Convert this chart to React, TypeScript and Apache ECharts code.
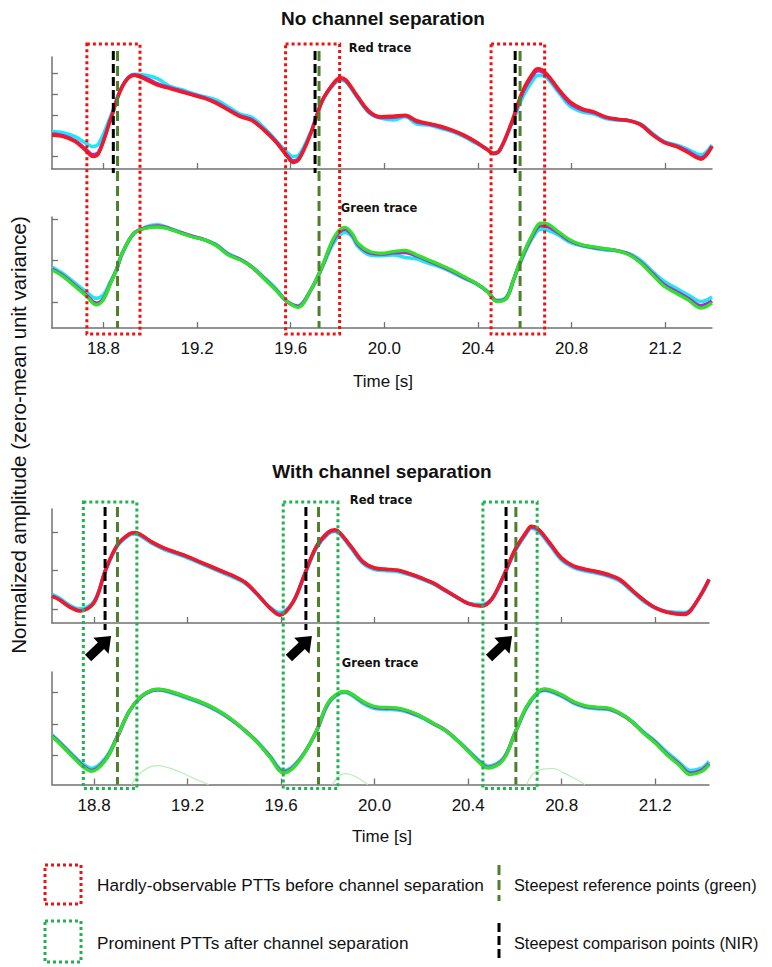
import React, { useEffect, useRef } from 'react';
import * as echarts from 'echarts';

// ---------- data ----------
const X_TICKS = [18.8, 19.2, 19.6, 20.0, 20.4, 20.8, 21.2];

// Panel 1: No channel separation – red trace
const T1 = [18.58, 18.628, 18.679, 18.729, 18.754, 18.779, 18.83, 18.88, 18.93, 18.981, 19.031, 19.082, 19.132, 19.182, 19.233, 19.283, 19.333, 19.384, 19.434, 19.484, 19.535, 19.585, 19.61, 19.636, 19.686, 19.736, 19.787, 19.812, 19.837, 19.887, 19.938, 19.988, 20.038, 20.089, 20.139, 20.189, 20.24, 20.29, 20.34, 20.391, 20.441, 20.466, 20.492, 20.542, 20.592, 20.643, 20.658, 20.693, 20.743, 20.794, 20.844, 20.895, 20.945, 20.995, 21.046, 21.096, 21.146, 21.197, 21.247, 21.297, 21.353, 21.4];
const P1_RED = [-0.96, -1.04, -1.28, -1.76, -2.0, -1.87, -0.24, 1.36, 1.92, 1.71, 1.44, 1.28, 1.12, 0.96, 0.8, 0.56, 0.24, -0.08, -0.27, -0.72, -1.28, -2.0, -2.29, -2.13, -0.88, 0.72, 1.6, 1.81, 1.68, 0.88, 0.16, -0.08, -0.05, 0.0, -0.27, -0.4, -0.53, -0.72, -0.96, -1.28, -1.68, -1.84, -1.71, -0.4, 1.2, 2.16, 2.24, 2.0, 1.28, 0.64, 0.32, 0.16, -0.08, -0.19, -0.27, -0.48, -0.96, -1.33, -1.52, -1.81, -2.13, -1.52];
const P1_CYAN = [-0.8, -0.85, -1.04, -1.39, -1.52, -1.39, -0.08, 1.39, 1.97, 1.92, 1.76, 1.39, 1.23, 1.04, 0.88, 0.72, 0.4, 0.05, -0.11, -0.59, -1.2, -1.81, -2.0, -1.92, -0.8, 0.72, 1.52, 1.68, 1.6, 0.8, 0.08, -0.16, -0.24, -0.08, -0.43, -0.48, -0.64, -0.8, -1.04, -1.36, -1.65, -1.87, -1.71, -0.48, 0.88, 1.81, 1.92, 1.81, 1.12, 0.43, 0.16, 0.05, -0.16, -0.24, -0.27, -0.43, -0.88, -1.28, -1.44, -1.65, -1.92, -1.44];
const P1_MAG = [-0.92, -1.0, -1.24, -1.7, -1.92, -1.8, -0.2, 1.38, 1.94, 1.78, 1.5, 1.32, 1.16, 0.99, 0.83, 0.6, 0.28, -0.04, -0.23, -0.68, -1.25, -1.95, -2.22, -2.08, -0.86, 0.72, 1.56, 1.76, 1.64, 0.85, 0.12, -0.12, -0.1, -0.03, -0.32, -0.43, -0.57, -0.75, -0.99, -1.31, -1.67, -1.85, -1.71, -0.43, 1.1, 2.05, 2.14, 1.94, 1.22, 0.56, 0.26, 0.12, -0.11, -0.21, -0.27, -0.46, -0.93, -1.31, -1.49, -1.75, -2.06, -1.5];

// Panel 2: No channel separation – green trace
const T2 = [18.58, 18.628, 18.679, 18.729, 18.769, 18.799, 18.83, 18.855, 18.88, 18.93, 18.981, 19.031, 19.082, 19.132, 19.182, 19.233, 19.283, 19.333, 19.384, 19.434, 19.484, 19.535, 19.585, 19.631, 19.686, 19.731, 19.787, 19.832, 19.862, 19.887, 19.938, 19.988, 20.038, 20.089, 20.139, 20.189, 20.24, 20.29, 20.34, 20.391, 20.441, 20.481, 20.522, 20.552, 20.577, 20.628, 20.668, 20.693, 20.743, 20.794, 20.844, 20.895, 20.945, 20.995, 21.046, 21.096, 21.146, 21.197, 21.247, 21.297, 21.353, 21.4];
const P2_GREEN = [-0.22, -0.38, -0.62, -0.86, -1.06, -0.94, -0.54, -0.22, 0.18, 0.66, 0.78, 0.81, 0.76, 0.66, 0.57, 0.5, 0.36, 0.14, 0.02, -0.15, -0.42, -0.7, -0.98, -1.12, -0.7, -0.18, 0.58, 0.8, 0.66, 0.42, 0.22, 0.18, 0.22, 0.25, 0.14, 0.02, -0.1, -0.23, -0.38, -0.54, -0.74, -0.98, -0.9, -0.46, -0.06, 0.58, 0.9, 0.89, 0.7, 0.5, 0.38, 0.33, 0.29, 0.24, 0.14, -0.06, -0.34, -0.62, -0.78, -0.94, -1.14, -1.02];
const P2_CYAN = [-0.15, -0.31, -0.54, -0.76, -0.9, -0.82, -0.5, -0.22, 0.17, 0.65, 0.81, 0.86, 0.78, 0.68, 0.58, 0.5, 0.38, 0.17, 0.04, -0.14, -0.39, -0.66, -0.98, -1.08, -0.7, -0.2, 0.46, 0.68, 0.58, 0.34, 0.14, 0.12, 0.14, 0.08, 0.04, -0.06, -0.15, -0.28, -0.42, -0.55, -0.74, -0.95, -0.87, -0.46, -0.1, 0.5, 0.76, 0.74, 0.62, 0.44, 0.36, 0.3, 0.26, 0.24, 0.17, 0.01, -0.26, -0.5, -0.66, -0.82, -0.98, -0.87];
const P2_MAG = [-0.2, -0.36, -0.6, -0.84, -1.02, -0.92, -0.53, -0.22, 0.18, 0.66, 0.79, 0.83, 0.77, 0.67, 0.58, 0.5, 0.37, 0.15, 0.03, -0.15, -0.41, -0.69, -0.98, -1.1, -0.7, -0.19, 0.54, 0.76, 0.63, 0.39, 0.19, 0.16, 0.19, 0.2, 0.11, 0.0, -0.12, -0.25, -0.4, -0.54, -0.74, -0.97, -0.89, -0.46, -0.08, 0.55, 0.84, 0.83, 0.67, 0.48, 0.37, 0.32, 0.28, 0.24, 0.15, -0.04, -0.31, -0.58, -0.74, -0.9, -1.08, -0.97];

// Panel 3: With channel separation – red trace
const T3 = [18.62, 18.65, 18.7, 18.74, 18.8, 18.85, 18.9, 18.95, 18.975, 19.0, 19.05, 19.1, 19.15, 19.2, 19.25, 19.3, 19.35, 19.4, 19.45, 19.5, 19.55, 19.595, 19.65, 19.7, 19.75, 19.8, 19.83, 19.85, 19.9, 19.95, 20.0, 20.05, 20.1, 20.15, 20.2, 20.25, 20.3, 20.35, 20.4, 20.455, 20.5, 20.55, 20.6, 20.65, 20.67, 20.7, 20.75, 20.8, 20.85, 20.9, 20.95, 21.0, 21.05, 21.1, 21.15, 21.2, 21.25, 21.325, 21.35, 21.4, 21.43];
const P3_RED = [-0.67, -0.76, -0.97, -1.06, -0.84, 0.03, 0.68, 0.96, 1.0, 0.94, 0.74, 0.59, 0.48, 0.37, 0.24, 0.11, -0.02, -0.15, -0.32, -0.63, -0.97, -1.17, -0.84, -0.1, 0.63, 1.0, 1.07, 1.0, 0.63, 0.24, 0.07, 0.04, 0.01, -0.08, -0.19, -0.32, -0.5, -0.69, -0.86, -0.93, -0.76, -0.15, 0.55, 1.03, 1.16, 1.09, 0.72, 0.33, 0.13, 0.04, -0.02, -0.1, -0.23, -0.5, -0.76, -0.97, -1.09, -1.15, -1.06, -0.58, -0.23];
const P3_CYAN = [-0.62, -0.71, -0.92, -1.0, -0.8, 0.02, 0.64, 0.92, 0.96, 0.9, 0.7, 0.55, 0.44, 0.33, 0.2, 0.07, -0.06, -0.19, -0.35, -0.64, -0.95, -1.1, -0.82, -0.12, 0.58, 0.95, 1.02, 0.96, 0.58, 0.19, 0.03, 0.0, -0.03, -0.11, -0.22, -0.35, -0.52, -0.7, -0.85, -0.89, -0.74, -0.17, 0.5, 0.98, 1.11, 1.03, 0.66, 0.27, 0.08, -0.01, -0.07, -0.15, -0.28, -0.54, -0.8, -0.98, -1.07, -1.1, -1.03, -0.6, -0.25];
const P3_MAG = [-0.66, -0.75, -0.96, -1.05, -0.83, 0.03, 0.67, 0.95, 0.99, 0.93, 0.73, 0.58, 0.47, 0.36, 0.23, 0.1, -0.03, -0.16, -0.33, -0.63, -0.96, -1.15, -0.83, -0.11, 0.61, 0.98, 1.05, 0.99, 0.61, 0.22, 0.06, 0.03, 0.0, -0.09, -0.2, -0.33, -0.51, -0.69, -0.86, -0.92, -0.75, -0.16, 0.53, 1.01, 1.14, 1.07, 0.7, 0.31, 0.11, 0.02, -0.04, -0.12, -0.25, -0.51, -0.77, -0.97, -1.08, -1.13, -1.05, -0.58, -0.23];

// Panel 4: With channel separation – green trace
const T4 = [18.62, 18.65, 18.7, 18.75, 18.79, 18.85, 18.9, 18.95, 19.0, 19.05, 19.075, 19.1, 19.15, 19.2, 19.25, 19.3, 19.35, 19.4, 19.45, 19.5, 19.55, 19.61, 19.65, 19.7, 19.75, 19.8, 19.85, 19.875, 19.9, 19.95, 20.0, 20.05, 20.1, 20.15, 20.2, 20.25, 20.3, 20.35, 20.4, 20.45, 20.485, 20.55, 20.6, 20.65, 20.7, 20.725, 20.75, 20.8, 20.85, 20.9, 20.95, 21.0, 21.05, 21.1, 21.15, 21.2, 21.25, 21.3, 21.35, 21.4, 21.43];
const P4_GREEN = [-0.4, -0.6, -0.97, -1.33, -1.49, -1.13, -0.4, 0.39, 0.85, 1.06, 1.08, 1.06, 0.96, 0.83, 0.7, 0.54, 0.33, 0.07, -0.24, -0.6, -1.02, -1.54, -1.39, -0.92, -0.24, 0.65, 0.98, 1.01, 0.94, 0.7, 0.54, 0.51, 0.49, 0.39, 0.23, 0.02, -0.19, -0.5, -0.86, -1.23, -1.39, -1.13, -0.29, 0.54, 1.01, 1.09, 1.06, 0.91, 0.7, 0.57, 0.52, 0.49, 0.33, 0.07, -0.29, -0.6, -0.97, -1.28, -1.59, -1.49, -1.28];
const P4_CYAN = [-0.35, -0.55, -0.91, -1.24, -1.39, -1.06, -0.38, 0.38, 0.83, 1.04, 1.06, 1.03, 0.92, 0.79, 0.66, 0.5, 0.3, 0.05, -0.25, -0.58, -0.98, -1.46, -1.33, -0.9, -0.26, 0.6, 0.95, 0.98, 0.9, 0.64, 0.48, 0.45, 0.43, 0.34, 0.19, 0.0, -0.2, -0.49, -0.83, -1.17, -1.32, -1.08, -0.3, 0.5, 0.97, 1.04, 1.01, 0.86, 0.65, 0.52, 0.47, 0.45, 0.31, 0.08, -0.25, -0.54, -0.89, -1.19, -1.46, -1.38, -1.18];
const P4_MAG = [-0.38, -0.58, -0.95, -1.3, -1.46, -1.11, -0.4, 0.39, 0.84, 1.05, 1.07, 1.05, 0.95, 0.82, 0.69, 0.53, 0.32, 0.06, -0.24, -0.59, -1.01, -1.51, -1.37, -0.91, -0.25, 0.63, 0.97, 1.0, 0.93, 0.68, 0.52, 0.49, 0.47, 0.37, 0.22, 0.01, -0.19, -0.5, -0.85, -1.21, -1.37, -1.11, -0.29, 0.53, 1.0, 1.07, 1.04, 0.89, 0.68, 0.55, 0.5, 0.47, 0.32, 0.07, -0.28, -0.58, -0.95, -1.25, -1.55, -1.45, -1.25];
// faint residual component in panel 4 (null = gap)
const T4_FAINT = [18.96, 18.99, 19.03, 19.07, 19.12, 19.18, 19.24, 19.29, 19.5, 19.82, 19.85, 19.88, 19.92, 19.97, 20.3, 20.65, 20.68, 20.72, 20.76, 20.82, 20.9];
const P4_FAINT = [-1.9, -1.6, -1.38, -1.31, -1.38, -1.55, -1.75, -1.9, null, -1.9, -1.62, -1.56, -1.66, -1.9, null, -1.9, -1.55, -1.42, -1.4, -1.58, -1.9];

// Annotation positions (time, s)
const RED_BOX_START = [18.729, 19.578, 20.456];
const RED_BOX_END = [18.956, 19.809, 20.685];
const TOP_BLACK = [18.842, 19.704, 20.559];
const TOP_GREEN = [18.86, 19.721, 20.58];
const GREEN_BOX_START = [18.754, 19.609, 20.463];
const GREEN_BOX_END = [18.983, 19.843, 20.695];
const BOT_BLACK = [18.847, 19.706, 20.562];
const BOT_GREEN = [18.9, 19.76, 20.604];

// ---------- styling ----------
const C_RED = '#ee1b24';
const C_CYAN = '#22e6f2';
const C_MAG = '#b528c8';
const C_GREEN = '#2ee22e';
const C_DOT_RED = '#f01010';
const C_DOT_GREEN = '#1fb24e';
const C_DASH_GREEN = '#4f7f2c';
const AXIS_C = '#727272';
const FONT = "'Liberation Sans', Arial, Helvetica, sans-serif";

const LEFT = 52;
const GRIDS = [
  { top: 57, height: 112, width: 660 },
  { top: 217, height: 111, width: 660 },
  { top: 509, height: 114, width: 657 },
  { top: 672, height: 112.5, width: 657 },
];
const X_RANGE = [
  [18.58, 21.4],
  [18.58, 21.4],
  [18.62, 21.43],
  [18.62, 21.43],
];
const Y_RANGE = [
  [-2.6, 2.8],
  [-1.615, 1.05],
  [-1.37, 1.61],
  [-1.9, 1.62],
];
const Y_TICKS = [[-2, -1, 0, 1, 2], [-1, 0, 1], [-1, 0, 1], [-1, 0, 1]];

const zip = (t: number[], v: (number | null)[]) => t.map((x, i) => [x, v[i]]);

function traceSeries(idx: number, t: number[], cyan: number[], mag: number[], main: number[], mainColor: string) {
  const base = {
    type: 'line',
    xAxisIndex: idx,
    yAxisIndex: idx,
    showSymbol: false,
    smooth: 0.35,
    silent: true,
  };
  return [
    { ...base, name: `cyan${idx}`, data: zip(t, cyan), lineStyle: { color: C_CYAN, width: 3.6 }, z: 2 },
    { ...base, name: `mag${idx}`, data: zip(t, mag), lineStyle: { color: C_MAG, width: 3.6 }, z: 3 },
    { ...base, name: `main${idx}`, data: zip(t, main), lineStyle: { color: mainColor, width: 3.3 }, z: 4 },
  ];
}

export default function App() {
  const ref = useRef<HTMLDivElement>(null);

  useEffect(() => {
    document.body.style.margin = '0';
    const chart = echarts.init(ref.current!, null, { renderer: 'svg' });

    const grid = GRIDS.map((g) => ({ left: LEFT, top: g.top, width: g.width, height: g.height, containLabel: false, outerBoundsMode: 'none' }));

    const xAxis = GRIDS.map((_, i) => ({
      type: 'value',
      gridIndex: i,
      min: X_RANGE[i][0],
      max: X_RANGE[i][1],
      axisLine: { show: true, onZero: false, lineStyle: { color: AXIS_C, width: 1.5 } },
      axisTick: { show: true, inside: true, length: 6, customValues: X_TICKS, lineStyle: { color: AXIS_C, width: 1.3 } },
      axisLabel: {
        show: i === 1 || i === 3,
        customValues: X_TICKS,
        fontSize: 17,
        fontFamily: FONT,
        color: '#111',
        margin: 12,
        formatter: (v: number) => v.toFixed(1),
      },
      splitLine: { show: false },
    }));

    const yAxis = GRIDS.map((_, i) => ({
      type: 'value',
      gridIndex: i,
      min: Y_RANGE[i][0],
      max: Y_RANGE[i][1],
      axisLine: { show: true, onZero: false, lineStyle: { color: AXIS_C, width: 1.5 } },
      axisTick: { show: true, inside: true, length: 6, customValues: Y_TICKS[i], lineStyle: { color: AXIS_C, width: 1.3 } },
      axisLabel: { show: false },
      splitLine: { show: false },
    }));

    const series: any[] = [
      ...traceSeries(0, T1, P1_CYAN, P1_MAG, P1_RED, C_RED),
      ...traceSeries(1, T2, P2_CYAN, P2_MAG, P2_GREEN, C_GREEN),
      ...traceSeries(2, T3, P3_CYAN, P3_MAG, P3_RED, C_RED),
      ...traceSeries(3, T4, P4_CYAN, P4_MAG, P4_GREEN, C_GREEN),
      {
        type: 'line',
        name: 'faint',
        xAxisIndex: 3,
        yAxisIndex: 3,
        showSymbol: false,
        smooth: 0.4,
        connectNulls: false,
        silent: true,
        data: zip(T4_FAINT, P4_FAINT),
        lineStyle: { color: '#b4f0b4', width: 1.2 },
        z: 1,
      },
    ];

    chart.setOption({
      animation: false,
      backgroundColor: '#ffffff',
      grid,
      xAxis,
      yAxis,
      series,
    });

    const px = (axis: number, t: number) => chart.convertToPixel({ xAxisIndex: axis } as any, t) as unknown as number;
    const axisY = (i: number) => GRIDS[i].top + GRIDS[i].height;

    const els: any[] = [];
    const Z = 50;

    const vline = (x: number, y1: number, y2: number, color: string, dash: number[], width = 3) => ({
      type: 'line',
      z: Z,
      silent: true,
      shape: { x1: x, y1, x2: x, y2 },
      style: { stroke: color, lineWidth: width, lineDash: dash, fill: 'none' },
    });
    const dotRect = (x1: number, y1: number, x2: number, y2: number, color: string) => ({
      type: 'rect',
      z: Z,
      silent: true,
      shape: { x: x1, y: y1, width: x2 - x1, height: y2 - y1 },
      style: { fill: 'none', stroke: color, lineWidth: 3, lineDash: [3, 3] },
    });
    const text = (x: number, y: number, s: string, font: string, align = 'center', rotation = 0) => ({
      type: 'text',
      z: Z,
      silent: true,
      x,
      y,
      rotation,
      style: { text: s, font, fill: '#111', textAlign: align, textVerticalAlign: 'middle', align, verticalAlign: 'middle' },
    });
    const arrow = (tipX: number, tipY: number, tailX: number, tailY: number) => {
      const dx = tipX - tailX;
      const dy = tipY - tailY;
      const len = Math.hypot(dx, dy);
      const ux = dx / len, uy = dy / len;
      const nx = -uy, ny = ux;
      const sw = 4.5, hw = 11, hl = 14;
      const hx = tipX - ux * hl, hy = tipY - uy * hl;
      const pts = [
        [tailX + nx * sw, tailY + ny * sw],
        [hx + nx * sw, hy + ny * sw],
        [hx + nx * hw, hy + ny * hw],
        [tipX, tipY],
        [hx - nx * hw, hy - ny * hw],
        [hx - nx * sw, hy - ny * sw],
        [tailX - nx * sw, tailY - ny * sw],
      ];
      return { type: 'polygon', z: Z, silent: true, shape: { points: pts }, style: { fill: '#000' } };
    };

    // Top pair: red dotted boxes and dashed lines
    for (let k = 0; k < 3; k++) {
      els.push(dotRect(px(0, RED_BOX_START[k]), GRIDS[0].top - 13, px(0, RED_BOX_END[k]), axisY(1) + 6, C_DOT_RED));
      els.push(vline(px(0, TOP_GREEN[k]), GRIDS[0].top - 6, axisY(1), C_DASH_GREEN, [10, 5]));
      els.push(vline(px(0, TOP_BLACK[k]), GRIDS[0].top - 6, axisY(0) + 4, '#000', [9, 4]));
    }
    // Bottom pair: green dotted boxes, dashed lines, arrows
    for (let k = 0; k < 3; k++) {
      els.push(dotRect(px(2, GREEN_BOX_START[k]), GRIDS[2].top - 7, px(2, GREEN_BOX_END[k]), axisY(3) + 4, C_DOT_GREEN));
      els.push(vline(px(2, BOT_GREEN[k]), GRIDS[2].top - 2, axisY(3), C_DASH_GREEN, [10, 5]));
      els.push(vline(px(2, BOT_BLACK[k]), GRIDS[2].top - 2, axisY(2) + 7, '#000', [9, 4]));
      const bx = px(2, BOT_BLACK[k]);
      els.push(arrow(bx + 6, axisY(2) + 13, bx - 17, axisY(2) + 35));
    }

    // Titles and labels
    const titleFont = `bold 19px ${FONT}`;
    els.push(text(383, 18, 'No channel separation', titleFont));
    els.push(text(382, 471, 'With channel separation', titleFont));
    const traceFont = "bold 11.5px 'DejaVu Sans', sans-serif";
    els.push(text(380, 48, 'Red trace', traceFont));
    els.push(text(379, 208, 'Green trace', traceFont));
    els.push(text(381, 500, 'Red trace', traceFont));
    els.push(text(380, 663, 'Green trace', traceFont));
    const axisFont = `17px ${FONT}`;
    els.push(text(383, 381, 'Time [s]', axisFont));
    els.push(text(382, 836, 'Time [s]', axisFont));
    els.push(text(18, 435, 'Normalized amplitude (zero-mean unit variance)', `20.5px ${FONT}`, 'center', Math.PI / 2));

    // Legend
    const legFont = `17.2px ${FONT}`;
    const legFontR = `16.3px ${FONT}`;
    els.push(dotRect(45, 865, 81, 904, C_DOT_RED));
    els.push(text(97, 885, 'Hardly-observable PTTs before channel separation', legFont, 'left'));
    els.push(dotRect(45, 921, 81, 962, C_DOT_GREEN));
    els.push(text(97, 943, 'Prominent PTTs after channel separation', legFont, 'left'));
    els.push(vline(499, 865, 901, C_DASH_GREEN, [10, 5]));
    els.push(text(514, 885, 'Steepest reference points (green)', legFontR, 'left'));
    els.push(vline(499, 923, 960, '#000', [9, 4]));
    els.push(text(514, 943, 'Steepest comparison points (NIR)', legFontR, 'left'));

    chart.setOption({ graphic: { elements: els } });

    return () => chart.dispose();
  }, []);

  return <div ref={ref} style={{ width: 772, height: 967 }} />;
}
